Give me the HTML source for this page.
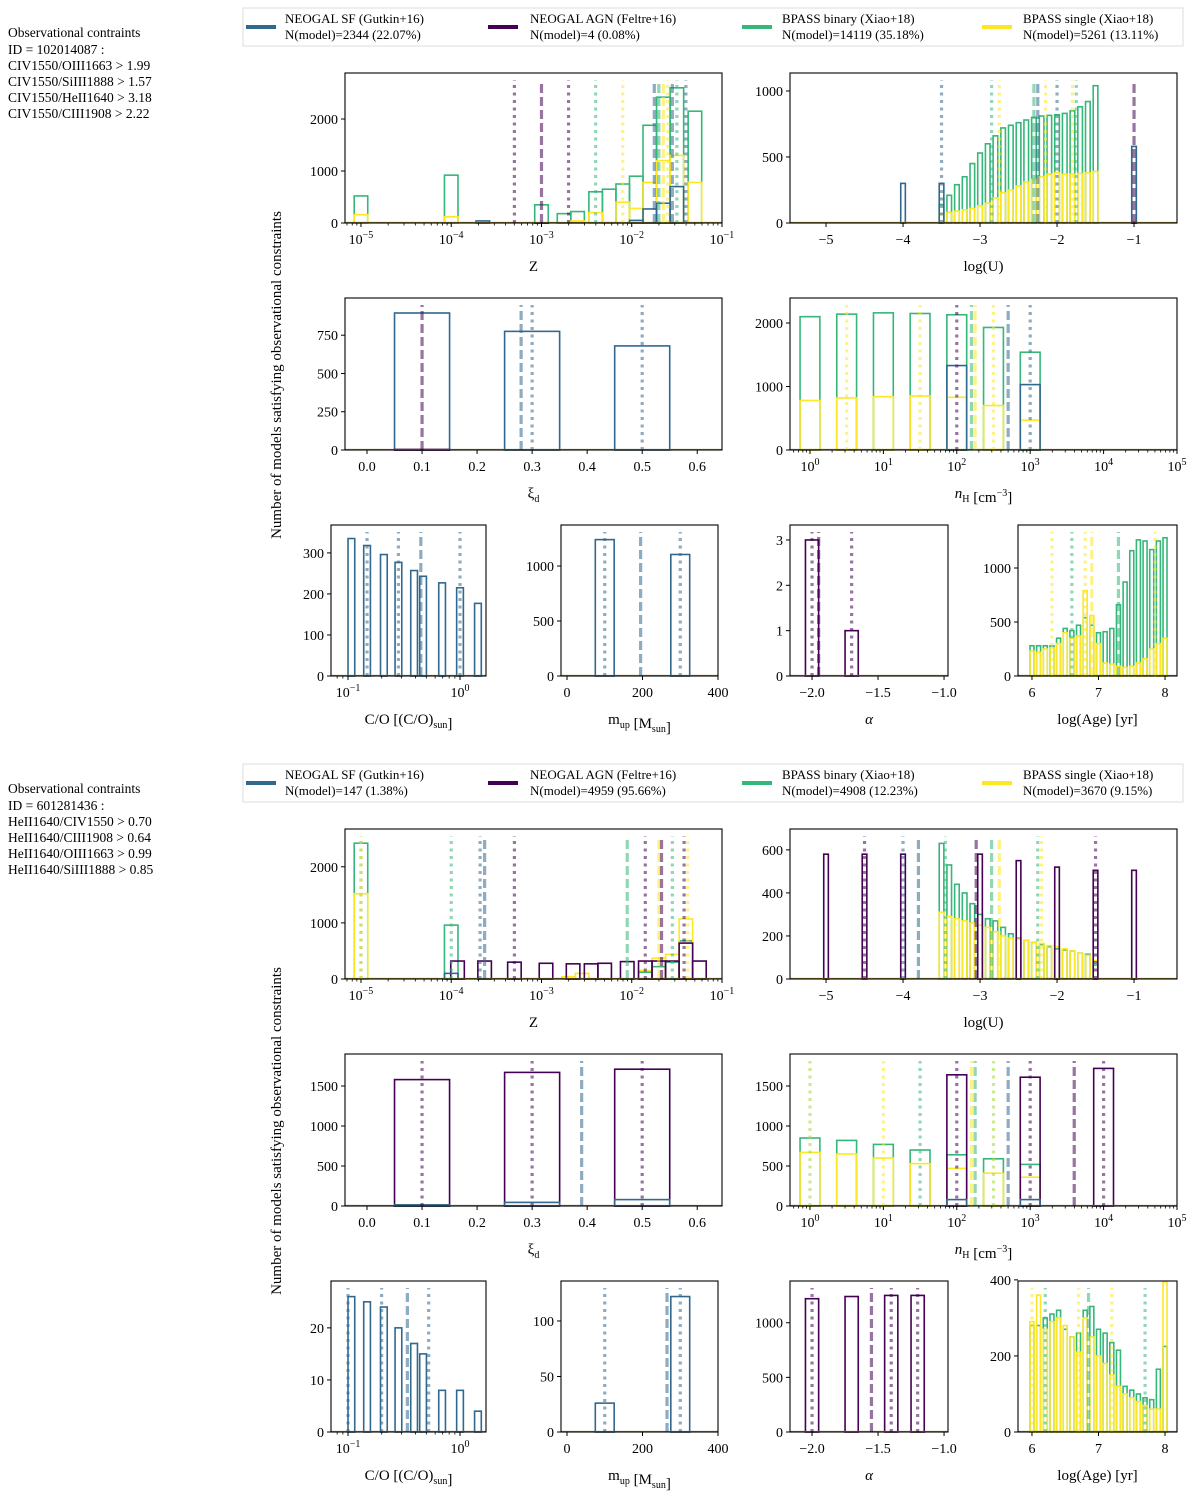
<!DOCTYPE html>
<html><head><meta charset="utf-8"><style>
body{margin:0;background:#fff;}
svg{display:block;font-family:"Liberation Serif",serif;}
</style></head><body>
<svg id="fig" width="1200" height="1504" viewBox="0 0 1200 1504">
<g font-size="13.5">
<text x="8" y="37">Observational contraints</text>
<text x="8" y="54">ID = 102014087 :</text>
<text x="8" y="70">CIV1550/OIII1663 &gt; 1.99</text>
<text x="8" y="86">CIV1550/SiIII1888 &gt; 1.57</text>
<text x="8" y="102">CIV1550/HeII1640 &gt; 3.18</text>
<text x="8" y="118">CIV1550/CIII1908 &gt; 2.22</text>
</g>
<g font-size="13.5">
<text x="8" y="793">Observational contraints</text>
<text x="8" y="810">ID = 601281436 :</text>
<text x="8" y="826">HeII1640/CIV1550 &gt; 0.70</text>
<text x="8" y="842">HeII1640/CIII1908 &gt; 0.64</text>
<text x="8" y="858">HeII1640/OIII1663 &gt; 0.99</text>
<text x="8" y="874">HeII1640/SiIII1888 &gt; 0.85</text>
</g>
<text transform="translate(281,375) rotate(-90)" text-anchor="middle" font-size="15">Number of models satisfying observational constraints</text>
<text transform="translate(281,1131) rotate(-90)" text-anchor="middle" font-size="15">Number of models satisfying observational constraints</text>
</svg>
<script>
const SF='#31688e',AGN='#440154',BIN='#35b779',SIN='#fde725';
// legend data
const legendNames=['NEOGAL SF (Gutkin+16)','NEOGAL AGN (Feltre+16)','BPASS binary (Xiao+18)','BPASS single (Xiao+18)'];
const legendCounts1=['N(model)=2344 (22.07%)','N(model)=4 (0.08%)','N(model)=14119 (35.18%)','N(model)=5261 (13.11%)'];
const legendCounts2=['N(model)=147 (1.38%)','N(model)=4959 (95.66%)','N(model)=4908 (12.23%)','N(model)=3670 (9.15%)'];
// ===== Block 1 data =====
const z1BinX=[-5,-4,-3,-2.75,-2.6,-2.4,-2.25,-2.1,-1.95,-1.8,-1.65,-1.5,-1.3];
const z1BinV=[520,920,350,180,220,600,650,750,900,1880,2420,2600,2150];
const z1SinX=[-5,-4,-2.6,-2.4,-2.1,-1.95,-1.8,-1.65,-1.5,-1.3];
const z1SinV=[160,120,40,200,400,280,780,1200,1300,780];
const z1SfX=[-3.65,-1.95,-1.8,-1.65,-1.5];
const z1SfV=[40,50,270,380,700];
const z1AgnX=[-3.0];const z1AgnV=[4];
const u1BinX=[-3.5,-3.4,-3.3,-3.2,-3.1,-3.0,-2.9,-2.8,-2.7,-2.6,-2.5,-2.4,-2.3,-2.2,-2.1,-2.0,-1.9,-1.8,-1.7,-1.6,-1.5];
const u1BinV=[140,210,290,350,450,530,600,660,720,740,760,780,800,810,815,820,830,850,880,920,1040];
const u1SinV=[70,80,90,100,110,130,150,190,230,250,280,310,330,350,370,380,370,370,375,380,390];
const u1SfX=[-4,-3.5,-1];const u1SfV=[300,300,580];
const u1AgnX=[-1];const u1AgnV=[4];
const xi1SfX=[0.1,0.3,0.5];const xi1SfV=[895,775,680];
const xi1AgnX=[0.1];const xi1AgnV=[4];
const n1X=[0,0.5,1,1.5,2,2.5,3];
const n1BinV=[2100,2140,2160,2150,2130,1930,1540];
const n1SinV=[780,820,840,850,830,700,470];
const n1SfX=[2,3];const n1SfV=[1330,1030];
const co1X=[-0.97,-0.83,-0.68,-0.55,-0.41,-0.33,-0.16,0.0,0.16];
const co1V=[335,318,296,277,257,243,227,215,177];
const mu1X=[100,300];const mu1V=[1240,1105];
const al1X=[-2.0,-1.7];const al1V=[3,1];
const ageX=[6.0,6.1,6.2,6.3,6.4,6.5,6.6,6.7,6.8,6.9,7.0,7.1,7.2,7.3,7.4,7.5,7.6,7.7,7.8,7.9,8.0];
const age1BinV=[280,280,280,280,350,440,420,470,540,470,400,410,440,660,870,1160,1260,1250,1170,1250,1280];
const age1SinV=[230,220,250,260,300,400,350,370,790,560,300,120,110,90,80,90,120,160,250,300,350];
// ===== Block 2 data =====
const z2BinX=[-5,-4,-1.85,-1.7,-1.55,-1.4];const z2BinV=[2420,960,120,220,300,680];
const z2SinX=[-5,-2.7,-2.55,-1.85,-1.7,-1.55,-1.4];const z2SinV=[1520,40,100,150,370,440,1070];
const z2AgnX=[-3.93,-3.63,-3.3,-2.95,-2.65,-2.45,-2.3,-2.05,-1.85,-1.7,-1.55,-1.4,-1.25];
const z2AgnV=[320,320,300,280,270,270,280,310,320,320,320,640,320];
const z2SfX=[-4];const z2SfV=[100];
const u2AgnX=[-5,-4.5,-4,-3,-2.5,-2,-1.5,-1];const u2AgnV=[580,580,580,580,550,520,505,505];
const u2BinV=[630,530,440,400,350,300,280,270,240,210,190,180,170,160,150,140,135,130,120,115,65];
const u2SinV=[310,290,280,270,260,250,240,220,200,190,185,180,170,165,155,150,140,130,120,110,85];
const xi2AgnV=[1580,1670,1710];const xi2SfV=[15,45,80];
const n2BinV=[850,820,770,700,640,590,520];const n2SinV=[670,650,600,530,470,410,360];
const n2AgnX=[2,3,4];const n2AgnV=[1640,1610,1720];const n2SfX=[2,3];const n2SfV=[80,80];
const co2V=[26,25,24,20,17,15,8,8,4];
const mu2V=[26,122];
const al2X=[-2.0,-1.7,-1.4,-1.2];const al2V=[1220,1240,1250,1250];
const age2BinV=[280,280,300,310,320,270,250,260,320,330,270,260,235,215,120,110,100,90,85,165,225];
const age2SinV=[290,360,270,290,300,280,250,210,300,250,200,180,150,120,100,90,80,70,60,60,395];

const NS='http://www.w3.org/2000/svg';
const svg=document.getElementById('fig');
function mk(tag,attrs,parent){const e=document.createElementNS(NS,tag);for(const k in attrs)e.setAttribute(k,attrs[k]);(parent||svg).appendChild(e);return e;}
function legend(y,counts,idx){
  const g=mk('g',{});
  
  
  mk('rect',{x:243,y:y,width:940,height:38,fill:'#fff',stroke:'#ddd'},g);
  const cols=[SF,AGN,BIN,SIN],sx=[246,488,742,982],tx=[285,530,782,1023];
  for(let i=0;i<4;i++){
    const e=mk('g',{},g);
    
    
    mk('line',{x1:sx[i],x2:sx[i]+30,y1:y+19,y2:y+19,stroke:cols[i],'stroke-width':4},e);
    const t1=mk('text',{x:tx[i],y:y+15,'font-size':13},e);t1.textContent=legendNames[i];
    const t2=mk('text',{x:tx[i],y:y+31,'font-size':13},e);t2.textContent=counts[i];
  }
}
legend(8,legendCounts1,1);legend(764,legendCounts2,2);

function panel(p){
  const g=mk('g',{});
  
  
  const [x0,y0,x1,y1]=p.box;
  const X=v=>x0+(v-p.xmin)/(p.xmax-p.xmin)*(x1-x0);
  const Y=v=>y1-v/p.ymax*(y1-y0);
  p.series.forEach(s=>{
    const sg=mk('g',{},g);
    
    
    s.x.forEach((c,i)=>{
      const v=s.v[i];
      const r=mk('rect',{x:X(c-s.w/2),y:Y(v),width:X(c+s.w/2)-X(c-s.w/2),height:Y(0)-Y(v),fill:'none',stroke:s.c,'stroke-width':1.6},sg);
      
      
    });
  });
  mk('line',{x1:x0,x2:x1,y1:y1-0.5,y2:y1-0.5,stroke:'#9b8c3a','stroke-width':1.2},g);
  p.lines.forEach(l=>{
    const ln=mk('line',{x1:X(l[0]),x2:X(l[0]),y1:y1,y2:y0+7,stroke:l[1],'stroke-width':3.2,'stroke-opacity':0.55,'stroke-dasharray':l[2]==='dash'?'9,4':'3,4.5'},g);
    
    
  });
  mk('rect',{x:x0,y:y0,width:x1-x0,height:y1-y0,fill:'none',stroke:'#000','stroke-width':1.1},g);
  p.yt.forEach(v=>{const y=Y(v);mk('line',{x1:x0-4,x2:x0,y1:y,y2:y,stroke:'#000'},g);
    const t=mk('text',{x:x0-7,y:y+5,'text-anchor':'end','font-size':14},g);t.textContent=v;});
  p.xt.forEach(v=>{const x=X(v);mk('line',{x1:x,x2:x,y1:y1,y2:y1+4,stroke:'#000'},g);
    const t=mk('text',{x:x,y:y1+21,'text-anchor':'middle','font-size':14},g);
    if(p.log){t.textContent='10';const s=mk('tspan',{dy:-6,'font-size':10},t);s.textContent=(v<0?'\u2212':'')+Math.abs(v);}
    else t.textContent=(v<0?'\u2212':'')+(p.dec!==undefined?Math.abs(v).toFixed(p.dec):Math.abs(v));});
  if(p.log){for(let d=Math.floor(p.xmin);d<p.xmax;d++)for(let k=2;k<10;k++){const v=d+Math.log10(k);if(v>p.xmin&&v<p.xmax){const x=X(v);mk('line',{x1:x,x2:x,y1:y1,y2:y1+2.5,stroke:'#000','stroke-width':0.8},g);}}}
  const xl=mk('text',{x:(x0+x1)/2,y:y1+48,'text-anchor':'middle','font-size':15},g);
  
  
  xl.innerHTML=p.xlabel;
}
const sub='<tspan dy="4" font-size="10">', end='</tspan><tspan dy="-4"></tspan>';
const LBL={Z:'Z',U:'log(U)',xi:'ξ'+sub+'d'+end,n:'<tspan font-style="italic">n</tspan>'+sub+'H'+end+' [cm<tspan dy="-6" font-size="10">−3</tspan><tspan dy="6">]</tspan>',
  co:'C/O [(C/O)'+sub+'sun'+end+']',mu:'m'+sub+'up'+end+' [M'+sub+'sun'+end+']',al:'<tspan font-style="italic">α</tspan>',age:'log(Age) [yr]'};
function block(dy,b){
  const bx=(a)=>[a[0],a[1]+dy,a[2],a[3]+dy];
  panel({name:'panel-Z-'+b.id,box:bx([345,73,722,223]),xmin:-5.177,xmax:-1,log:true,xt:[-5,-4,-3,-2,-1],ymax:b.zmax,yt:b.zyt,xlabel:LBL.Z,series:b.z,lines:b.zl});
  panel({name:'panel-logU-'+b.id,box:bx([790,73,1177,223]),xmin:-5.468,xmax:-0.442,xt:[-5,-4,-3,-2,-1],ymax:b.umax,yt:b.uyt,xlabel:LBL.U,series:b.u,lines:b.ul});
  panel({name:'panel-xi-'+b.id,box:bx([345,298,722,450]),xmin:-0.04,xmax:0.645,dec:1,xt:[0,0.1,0.2,0.3,0.4,0.5,0.6],ymax:b.ximax,yt:b.xiyt,xlabel:LBL.xi,series:b.xi,lines:b.xil});
  panel({name:'panel-nH-'+b.id,box:bx([790,298,1177,450]),xmin:-0.272,xmax:5,log:true,xt:[0,1,2,3,4,5],ymax:b.nmax,yt:b.nyt,xlabel:LBL.n,series:b.n,lines:b.nl});
  panel({name:'panel-CO-'+b.id,box:bx([331,525,486,676]),xmin:-1.152,xmax:0.232,log:true,xt:[-1,0],ymax:b.comax,yt:b.coyt,xlabel:LBL.co,series:b.co,lines:b.col});
  panel({name:'panel-mup-'+b.id,box:bx([561,525,718,676]),xmin:-15.9,xmax:400,xt:[0,200,400],ymax:b.mumax,yt:b.muyt,xlabel:LBL.mu,series:b.mu,lines:b.mul});
  panel({name:'panel-alpha-'+b.id,box:bx([790,525,948,676]),xmin:-2.167,xmax:-0.97,dec:1,xt:[-2,-1.5,-1],ymax:b.almax,yt:b.alyt,xlabel:LBL.al,series:b.al,lines:b.all});
  panel({name:'panel-age-'+b.id,box:bx([1018,525,1177,676]),xmin:5.79,xmax:8.18,xt:[6,7,8],ymax:b.agemax,yt:b.ageyt,xlabel:LBL.age,series:b.age,lines:b.agel});
}
block(0,{id:1,
 zmax:2885,zyt:[0,1000,2000],
 z:[{label:'binary',x:z1BinX,v:z1BinV,w:0.15,c:BIN},{label:'single',x:z1SinX,v:z1SinV,w:0.15,c:SIN},{label:'sf',x:z1SfX,v:z1SfV,w:0.15,c:SF},{label:'agn',x:z1AgnX,v:z1AgnV,w:0.15,c:AGN}],
 zl:[[-3.3,AGN,'dot'],[-3.0,AGN,'dash'],[-2.7,AGN,'dot'],[-2.4,BIN,'dot'],[-2.1,SIN,'dot'],[-1.75,SF,'dash'],[-1.7,BIN,'dash'],[-1.65,SIN,'dash'],[-1.6,SIN,'dot'],[-1.55,SF,'dash'],[-1.5,BIN,'dot'],[-1.4,SF,'dot']],
 umax:1136,uyt:[0,500,1000],
 u:[{label:'binary',x:u1BinX,v:u1BinV,w:0.06,c:BIN},{label:'single',x:u1BinX,v:u1SinV,w:0.06,c:SIN},{label:'sf',x:u1SfX,v:u1SfV,w:0.06,c:SF},{label:'agn',x:u1AgnX,v:u1AgnV,w:0.06,c:AGN}],
 ul:[[-3.5,SF,'dot'],[-2.85,BIN,'dot'],[-2.75,SIN,'dot'],[-2.3,BIN,'dash'],[-2.25,SF,'dash'],[-2.15,SIN,'dot'],[-2.0,SF,'dot'],[-1.8,SIN,'dot'],[-1.75,BIN,'dot'],[-1,AGN,'dash']],
 ximax:993,xiyt:[0,250,500,750],
 xi:[{label:'sf',x:xi1SfX,v:xi1SfV,w:0.1,c:SF},{label:'agn',x:xi1AgnX,v:xi1AgnV,w:0.1,c:AGN}],
 xil:[[0.1,AGN,'dash'],[0.28,SF,'dash'],[0.3,SF,'dot'],[0.5,SF,'dot']],
 nmax:2394,nyt:[0,1000,2000],
 n:[{label:'binary',x:n1X,v:n1BinV,w:0.27,c:BIN},{label:'single',x:n1X,v:n1SinV,w:0.27,c:SIN},{label:'sf',x:n1SfX,v:n1SfV,w:0.27,c:SF}],
 nl:[[0.5,SIN,'dot'],[1.5,SIN,'dot'],[2,AGN,'dot'],[2.2,BIN,'dash'],[2.25,SIN,'dash'],[2.5,SIN,'dot'],[2.7,SF,'dash'],[3,SF,'dot']],
 comax:368,coyt:[0,100,200,300],
 co:[{label:'sf',x:co1X,v:co1V,w:0.06,c:SF}],
 col:[[-0.83,SF,'dot'],[-0.55,SF,'dot'],[-0.35,SF,'dash'],[0,SF,'dot']],
 mumax:1373,muyt:[0,500,1000],
 mu:[{label:'sf',x:mu1X,v:mu1V,w:50,c:SF}],
 mul:[[100,SF,'dot'],[195,SF,'dash'],[300,SF,'dot']],
 almax:3.33,alyt:[0,1,2,3],
 al:[{label:'agn',x:al1X,v:al1V,w:0.1,c:AGN}],
 all:[[-2.0,AGN,'dot'],[-1.95,AGN,'dash'],[-1.7,AGN,'dot']],
 agemax:1398,ageyt:[0,500,1000],
 age:[{label:'binary',x:ageX,v:age1BinV,w:0.06,c:BIN},{label:'single',x:ageX,v:age1SinV,w:0.06,c:SIN}],
 agel:[[6.3,SIN,'dot'],[6.6,BIN,'dot'],[6.8,SIN,'dot'],[6.9,SIN,'dash'],[7.3,BIN,'dash'],[7.85,SIN,'dot']]
});
block(756,{id:2,
 zmax:2673,zyt:[0,1000,2000],
 z:[{label:'binary',x:z2BinX,v:z2BinV,w:0.15,c:BIN},{label:'single',x:z2SinX,v:z2SinV,w:0.15,c:SIN},{label:'agn',x:z2AgnX,v:z2AgnV,w:0.15,c:AGN},{label:'sf',x:z2SfX,v:z2SfV,w:0.15,c:SF}],
 zl:[[-5,BIN,'dot'],[-5,SIN,'dot'],[-4,BIN,'dot'],[-3.68,SF,'dot'],[-3.63,SF,'dash'],[-3.3,AGN,'dot'],[-2.05,BIN,'dash'],[-1.85,AGN,'dot'],[-1.7,SIN,'dash'],[-1.67,AGN,'dash'],[-1.55,BIN,'dot'],[-1.42,AGN,'dot'],[-1.38,SIN,'dot']],
 umax:697,uyt:[0,200,400,600],
 u:[{label:'binary',x:u1BinX,v:u2BinV,w:0.06,c:BIN},{label:'single',x:u1BinX,v:u2SinV,w:0.06,c:SIN},{label:'agn',x:u2AgnX,v:u2AgnV,w:0.06,c:AGN}],
 ul:[[-4.5,AGN,'dot'],[-4,SF,'dot'],[-3.8,SF,'dash'],[-3.45,BIN,'dot'],[-3.05,AGN,'dash'],[-2.85,BIN,'dash'],[-2.75,SIN,'dash'],[-2.25,BIN,'dot'],[-2.2,SIN,'dot'],[-1.5,AGN,'dot']],
 ximax:1900,xiyt:[0,500,1000,1500],
 xi:[{label:'agn',x:xi1SfX,v:xi2AgnV,w:0.1,c:AGN},{label:'sf',x:xi1SfX,v:xi2SfV,w:0.1,c:SF}],
 xil:[[0.1,AGN,'dot'],[0.3,AGN,'dot'],[0.39,SF,'dash'],[0.5,AGN,'dot']],
 nmax:1900,nyt:[0,500,1000,1500],
 n:[{label:'binary',x:n1X,v:n2BinV,w:0.27,c:BIN},{label:'single',x:n1X,v:n2SinV,w:0.27,c:SIN},{label:'agn',x:n2AgnX,v:n2AgnV,w:0.27,c:AGN},{label:'sf',x:n2SfX,v:n2SfV,w:0.27,c:SF}],
 nl:[[0,'#a0da39','dot'],[1,SIN,'dot'],[1.5,BIN,'dot'],[2,AGN,'dot'],[2.2,SIN,'dash'],[2.25,BIN,'dash'],[2.5,'#a0da39','dot'],[2.7,SF,'dash'],[3,AGN,'dot'],[3.6,AGN,'dash'],[4,AGN,'dot']],
 comax:29,coyt:[0,10,20],
 co:[{label:'sf',x:co1X,v:co2V,w:0.06,c:SF}],
 col:[[-1,SF,'dot'],[-0.7,SF,'dot'],[-0.47,SF,'dash'],[-0.28,SF,'dot']],
 mumax:136,muyt:[0,50,100],
 mu:[{label:'sf',x:mu1X,v:mu2V,w:50,c:SF}],
 mul:[[100,SF,'dot'],[265,SF,'dash'],[300,SF,'dot']],
 almax:1382,alyt:[0,500,1000],
 al:[{label:'agn',x:al2X,v:al2V,w:0.1,c:AGN}],
 all:[[-2.0,AGN,'dot'],[-1.55,AGN,'dash'],[-1.4,AGN,'dot'],[-1.2,AGN,'dot']],
 agemax:397,ageyt:[0,200,400],
 age:[{label:'binary',x:ageX,v:age2BinV,w:0.06,c:BIN},{label:'single',x:ageX,v:age2SinV,w:0.06,c:SIN}],
 agel:[[6.0,SIN,'dot'],[6.2,BIN,'dot'],[6.7,SIN,'dot'],[6.85,BIN,'dash'],[7.2,SIN,'dot'],[7.7,BIN,'dot']]
});
</script>
</body></html>
